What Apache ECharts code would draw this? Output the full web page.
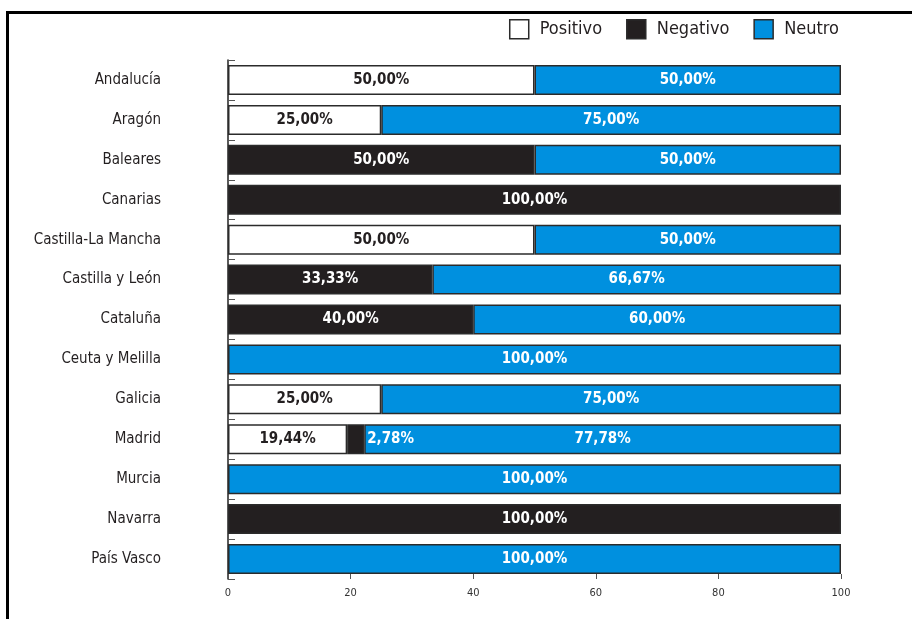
<!DOCTYPE html>
<html>
<head>
<meta charset="utf-8">
<script src="https://cdn.jsdelivr.net/npm/echarts@6/dist/echarts.min.js"></script>
<style>
  html, body { margin: 0; padding: 0; background: #fff; }
  #chart { width: 912px; height: 619px; }
</style>
</head>
<body>
<div id="chart"></div>
<script>
// categorias (de arriba a abajo)
const regiones = ['Andalucía', 'Aragón', 'Baleares', 'Canarias', 'Castilla-La Mancha',
  'Castilla y León', 'Cataluña', 'Ceuta y Melilla', 'Galicia', 'Madrid', 'Murcia',
  'Navarra', 'País Vasco'];
const positivo = [50, 25, null, null, 50, null, null, null, 25, 19.44, null, null, null];
const negativo = [null, null, 50, 100, null, 33.33, 40, null, null, 2.78, null, 100, null];
const neutro = [50, 75, 50, null, 50, 66.67, 60, 100, 75, 77.78, 100, null, 100];
const ticksX = [0, 20, 40, 60, 80, 100];

const FONT = "'Liberation Sans Narrow', 'DejaVu Sans Condensed', sans-serif";
const borde = '#2b2b2b';

function fmt(v) {
  return v.toFixed(2).replace('.', ',') + '%';
}

function serie(name, data, fill, txt) {
  return {
    name: name,
    type: 'bar',
    stack: 'total',
    barWidth: 30,
    itemStyle: { color: fill, borderColor: borde, borderWidth: 1.5 },
    label: {
      show: true,
      position: 'inside',
      color: txt,
      fontFamily: FONT,
      fontWeight: 'bold',
      fontSize: 15,
      formatter: p => fmt(p.value)
    },
    // segmentos muy pequeños: etiqueta a la derecha
    data: data.map(v => (v != null && v < 5)
      ? { value: v, label: { position: 'right', distance: 3 } }
      : v),
    emphasis: { disabled: true }
  };
}

const chart = echarts.init(document.getElementById('chart'));
chart.setOption({
  animation: false,
  textStyle: { fontFamily: FONT },
  graphic: [{
    type: 'rect',
    shape: { x: 7.5, y: 12.5, width: 2000, height: 2000 },
    style: { fill: 'none', stroke: '#000', lineWidth: 3 },
    silent: true
  }],
  legend: {
    top: 14,
    right: 68,
    icon: 'rect',
    itemWidth: 19,
    itemHeight: 19,
    itemGap: 24,
    textStyle: { fontSize: 18, color: '#231f20', fontFamily: FONT, padding: [0, 0, 0, 6] },
    data: [
      { name: 'Positivo', itemStyle: { borderColor: borde, borderWidth: 1.5 } },
      { name: 'Negativo', itemStyle: { borderColor: borde, borderWidth: 1.5 } },
      { name: 'Neutro', itemStyle: { borderColor: borde, borderWidth: 1.5 } }
    ]
  },
  grid: { left: 228, right: 71, top: 60, bottom: 40 },
  xAxis: {
    type: 'value',
    min: ticksX[0],
    max: ticksX[ticksX.length - 1],
    interval: 20,
    axisLine: { show: false },
    axisTick: { show: true, inside: true, length: 5, lineStyle: { color: '#555' } },
    splitLine: { show: false },
    axisLabel: { fontSize: 11, color: '#333', margin: 9, fontFamily: FONT }
  },
  yAxis: {
    type: 'category',
    inverse: true,
    data: regiones,
    axisLine: { show: true, lineStyle: { color: '#222', width: 1.5 } },
    axisTick: { show: true, inside: true, length: 7, lineStyle: { color: '#555' } },
    axisLabel: { margin: 67, fontSize: 15, color: '#231f20', fontFamily: FONT }
  },
  series: [
    serie('Positivo', positivo, '#ffffff', '#231f20'),
    serie('Negativo', negativo, '#231f20', '#ffffff'),
    serie('Neutro', neutro, '#0090df', '#ffffff')
  ]
});
</script>
</body>
</html>
